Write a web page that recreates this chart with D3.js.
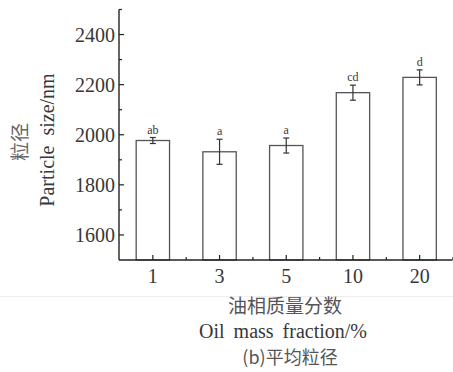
<!DOCTYPE html>
<html><head><meta charset="utf-8">
<script src="https://cdn.jsdelivr.net/npm/d3@7"></script>
<style>
body{margin:0;background:#fff;}
svg{display:block;}
svg text{font-family:"Liberation Serif","Times New Roman",serif;}
svg text.cjk{font-family:"Noto Sans CJK SC","Noto Sans CJK JP",sans-serif;}
</style>
</head><body>
<script>
const categories = ["1","3","5","10","20"];
const values = [1977, 1932, 1957, 2168, 2229];
const errors = [12, 50, 30, 30, 30];
const letters = ["ab","a","a","cd","d"];
const yMajorTicks = [1600,1800,2000,2200,2400];
const yMinorTicks = [1700,1900,2100,2300,2500];

const W=453,H=372;
const svg=d3.select("body").append("svg").attr("width",W).attr("height",H);
const col="#383838";
const mLeft=119,mRight=452.5,mTop=9.5,mBottom=260;

const x=d3.scaleBand().domain(categories).range([mLeft,mRight]).paddingInner(0.5).paddingOuter(0.25);
const y=d3.scaleLinear().domain([1500,2500]).range([mBottom,mTop]);

// faint separator line
svg.append("line").attr("x1",0).attr("x2",W).attr("y1",296.5).attr("y2",296.5).attr("stroke","#eeeeee");

// bars
const g=svg.append("g");
g.selectAll("rect").data(values).join("rect")
 .attr("x",(d,i)=>x(categories[i])+0.5).attr("y",d=>y(d))
 .attr("width",x.bandwidth()).attr("height",d=>mBottom-y(d))
 .attr("fill","#fff").attr("stroke","#555").attr("stroke-width",1.3);

// error bars
values.forEach((v,i)=>{
  const cx=x(categories[i])+x.bandwidth()/2+0.5;
  const y1=y(v+errors[i]),y2=y(v-errors[i]);
  g.append("line").attr("x1",cx).attr("x2",cx).attr("y1",y1).attr("y2",y2).attr("stroke","#333").attr("stroke-width",1.2);
  [y1,y2].forEach(yy=>g.append("line").attr("x1",cx-3).attr("x2",cx+3).attr("y1",yy).attr("y2",yy).attr("stroke","#333").attr("stroke-width",1.2));
  g.append("text").attr("x",cx).attr("y",y1-4).attr("text-anchor","middle")
   .style("font-size","12px").attr("fill",col).text(letters[i]);
});

// y axis
const ya=svg.append("g").attr("transform",`translate(${mLeft},0)`);
ya.append("line").attr("x1",0).attr("x2",0).attr("y1",mTop).attr("y2",mBottom).attr("stroke","#222").attr("stroke-width",1.4);
ya.selectAll(".maj").data(yMajorTicks).join("line").attr("class","maj").attr("x1",0).attr("x2",5).attr("y1",d=>y(d)).attr("y2",d=>y(d)).attr("stroke","#222").attr("stroke-width",1.2);
ya.selectAll(".min").data(yMinorTicks).join("line").attr("class","min").attr("x1",0).attr("x2",3).attr("y1",d=>y(d)).attr("y2",d=>y(d)).attr("stroke","#222").attr("stroke-width",1.2);
ya.selectAll("text").data(yMajorTicks).join("text").attr("x",-4).attr("y",d=>y(d)).attr("dy","0.35em")
 .attr("text-anchor","end").style("font-size","20px").attr("fill",col).text(d=>d);

// x axis
const xa=svg.append("g");
xa.append("line").attr("x1",mLeft).attr("x2",mRight).attr("y1",mBottom).attr("y2",mBottom).attr("stroke","#222").attr("stroke-width",1.4);
categories.forEach((c,i)=>{
  const cx=x(c)+x.bandwidth()/2+0.5;
  xa.append("line").attr("x1",cx).attr("x2",cx).attr("y1",mBottom).attr("y2",mBottom-5).attr("stroke","#222").attr("stroke-width",1.2);
  const bx=x(c)+x.bandwidth()*1.5+0.5;
  xa.append("line").attr("x1",bx).attr("x2",bx).attr("y1",mBottom).attr("y2",mBottom-3).attr("stroke","#222").attr("stroke-width",1.2);
  xa.append("text").attr("x",cx).attr("y",283).attr("text-anchor","middle")
   .style("font-size","20px").attr("fill",col).text(c);
});

// y titles
svg.append("text").attr("class","cjk").attr("transform","translate(27,142) rotate(-90)").attr("text-anchor","middle")
 .style("font-size","19px").attr("fill","#666").text("粒径");
svg.append("text").attr("transform","translate(54,140) rotate(-90)").attr("text-anchor","middle")
 .style("font-size","20px").attr("fill",col).style("word-spacing","5px").text("Particle size/nm");

// x titles
svg.append("text").attr("class","cjk").attr("x",285).attr("y",313).attr("text-anchor","middle")
 .style("font-size","19px").attr("fill","#555").text("油相质量分数");
svg.append("text").attr("x",283).attr("y",338).attr("text-anchor","middle")
 .style("font-size","20px").attr("fill",col).style("word-spacing","4px").text("Oil mass fraction/%");
svg.append("text").attr("class","cjk").attr("x",290).attr("y",364).attr("text-anchor","middle")
 .style("font-size","18px").attr("fill","#555").text("(b)平均粒径");
</script>
</body></html>
